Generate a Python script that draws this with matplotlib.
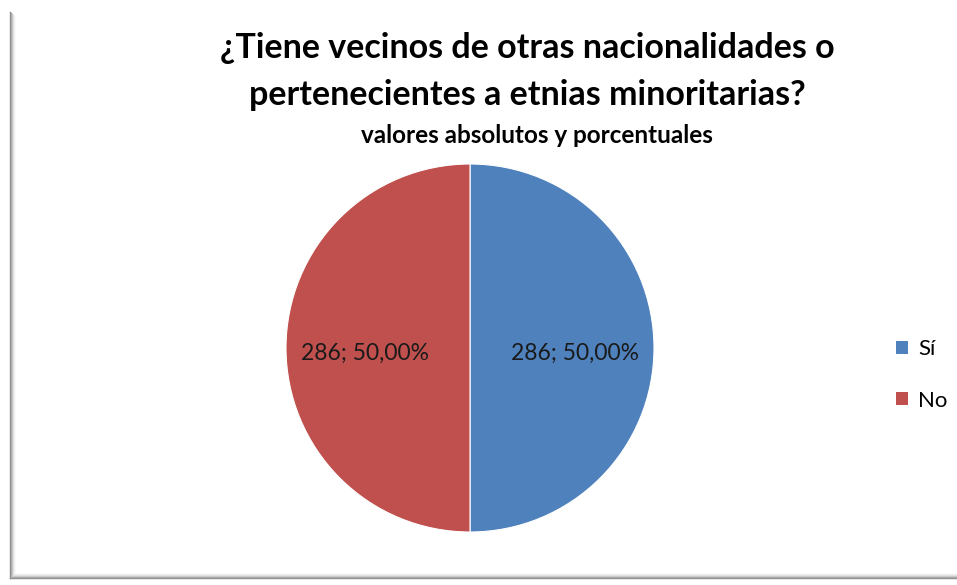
import matplotlib

matplotlib.use("Agg")
import matplotlib.pyplot as plt
from matplotlib.lines import Line2D
from matplotlib.patches import Patch

plt.rcParams["font.family"] = ["Lato", "DejaVu Sans"]

categories = ["Sí", "No"]
counts = [286, 286]
colors = ["#4F81BD", "#C0504D"]

W, H = 957, 585
fig = plt.figure(figsize=(W / 100, H / 100), dpi=100)
fig.patch.set_facecolor("white")

# marco con sombra (izquierda y abajo)
for i, g in enumerate(["#8c8c8c", "#a6a6a6", "#c4c4c4", "#dedede", "#efefef"]):
    x = (10 + i) / W
    yb = (H - 578 + i) / H
    fig.add_artist(Line2D([x, x], [yb, 1 - (12 + i) / H], color=g, lw=1.0,
                          transform=fig.transFigure))
    fig.add_artist(Line2D([x, 1], [yb, yb], color=g, lw=1.0,
                          transform=fig.transFigure))

# pie: centro (470, 348), radio 184 px
cx, cy, r = 470, 348, 184
ax = fig.add_axes([(cx - r) / W, (H - cy - r) / H, 2 * r / W, 2 * r / H])
total = sum(counts)
wedges, texts, autotexts = ax.pie(
    counts,
    colors=colors,
    startangle=90,
    counterclock=False,
    autopct=lambda p: f"{round(p * total / 100):d}; {p:.2f}%".replace(".", ","),
    pctdistance=0.57,
    wedgeprops=dict(edgecolor="white", linewidth=0.8),
    textprops=dict(fontsize=16.5, color="#1a1a1a"),
)
for t in autotexts:
    x0, y0 = t.get_position()
    t.set_position((x0, y0 - 0.03))
ax.set_xlim(-1, 1)
ax.set_ylim(-1, 1)
ax.set_aspect("equal")
ax.set_axis_off()

fig.text(527 / W, 1 - 48 / H, "¿Tiene vecinos de otras nacionalidades o",
         ha="center", va="center", fontsize=24.5, fontweight="bold")
fig.text(527 / W, 1 - 95 / H, "pertenecientes a etnias minoritarias?",
         ha="center", va="center", fontsize=24.5, fontweight="bold")
fig.text(537 / W, 1 - 135 / H, "valores absolutos y porcentuales",
         ha="center", va="center", fontsize=17.5, fontweight="bold")

handles = [Patch(facecolor=c, edgecolor="none") for c in colors]
fig.legend(handles, categories, loc="center left",
           bbox_to_anchor=(876 / W, 1 - 375 / H), frameon=False,
           fontsize=16, handlelength=0.55, handleheight=0.55,
           handletextpad=0.45, labelspacing=1.4)

fig.savefig("out.png", dpi=100, facecolor="white")
